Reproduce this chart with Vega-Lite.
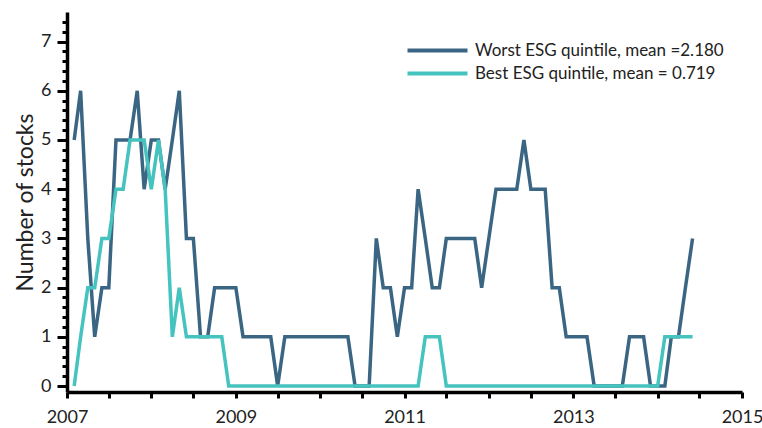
{
  "$schema": "https://vega.github.io/schema/vega-lite/v6.json",
  "width": 675,
  "height": 380,
  "autosize": "none",
  "padding": {"left": 67, "top": 12, "right": 20, "bottom": 36},
  "background": "white",
  "config": {"font": "Lato", "view": {"stroke": null}},
  "data": {"values": [
    {"date":"2007-02-01","series":"Worst","n":5},{"date":"2007-03-01","series":"Worst","n":6},{"date":"2007-04-01","series":"Worst","n":3},{"date":"2007-05-01","series":"Worst","n":1},{"date":"2007-06-01","series":"Worst","n":2},{"date":"2007-07-01","series":"Worst","n":2},{"date":"2007-08-01","series":"Worst","n":5},{"date":"2007-09-01","series":"Worst","n":5},{"date":"2007-10-01","series":"Worst","n":5},{"date":"2007-11-01","series":"Worst","n":6},{"date":"2007-12-01","series":"Worst","n":4},
    {"date":"2008-01-01","series":"Worst","n":5},{"date":"2008-02-01","series":"Worst","n":5},{"date":"2008-03-01","series":"Worst","n":4},{"date":"2008-04-01","series":"Worst","n":5},{"date":"2008-05-01","series":"Worst","n":6},{"date":"2008-06-01","series":"Worst","n":3},{"date":"2008-07-01","series":"Worst","n":3},{"date":"2008-08-01","series":"Worst","n":1},{"date":"2008-09-01","series":"Worst","n":1},{"date":"2008-10-01","series":"Worst","n":2},{"date":"2008-11-01","series":"Worst","n":2},{"date":"2008-12-01","series":"Worst","n":2},
    {"date":"2009-01-01","series":"Worst","n":2},{"date":"2009-02-01","series":"Worst","n":1},{"date":"2009-03-01","series":"Worst","n":1},{"date":"2009-04-01","series":"Worst","n":1},{"date":"2009-05-01","series":"Worst","n":1},{"date":"2009-06-01","series":"Worst","n":1},{"date":"2009-07-01","series":"Worst","n":0},{"date":"2009-08-01","series":"Worst","n":1},{"date":"2009-09-01","series":"Worst","n":1},{"date":"2009-10-01","series":"Worst","n":1},{"date":"2009-11-01","series":"Worst","n":1},{"date":"2009-12-01","series":"Worst","n":1},
    {"date":"2010-01-01","series":"Worst","n":1},{"date":"2010-02-01","series":"Worst","n":1},{"date":"2010-03-01","series":"Worst","n":1},{"date":"2010-04-01","series":"Worst","n":1},{"date":"2010-05-01","series":"Worst","n":1},{"date":"2010-06-01","series":"Worst","n":0},{"date":"2010-07-01","series":"Worst","n":0},{"date":"2010-08-01","series":"Worst","n":0},{"date":"2010-09-01","series":"Worst","n":3},{"date":"2010-10-01","series":"Worst","n":2},{"date":"2010-11-01","series":"Worst","n":2},{"date":"2010-12-01","series":"Worst","n":1},
    {"date":"2011-01-01","series":"Worst","n":2},{"date":"2011-02-01","series":"Worst","n":2},{"date":"2011-03-01","series":"Worst","n":4},{"date":"2011-04-01","series":"Worst","n":3},{"date":"2011-05-01","series":"Worst","n":2},{"date":"2011-06-01","series":"Worst","n":2},{"date":"2011-07-01","series":"Worst","n":3},{"date":"2011-08-01","series":"Worst","n":3},{"date":"2011-09-01","series":"Worst","n":3},{"date":"2011-10-01","series":"Worst","n":3},{"date":"2011-11-01","series":"Worst","n":3},{"date":"2011-12-01","series":"Worst","n":2},
    {"date":"2012-01-01","series":"Worst","n":3},{"date":"2012-02-01","series":"Worst","n":4},{"date":"2012-03-01","series":"Worst","n":4},{"date":"2012-04-01","series":"Worst","n":4},{"date":"2012-05-01","series":"Worst","n":4},{"date":"2012-06-01","series":"Worst","n":5},{"date":"2012-07-01","series":"Worst","n":4},{"date":"2012-08-01","series":"Worst","n":4},{"date":"2012-09-01","series":"Worst","n":4},{"date":"2012-10-01","series":"Worst","n":2},{"date":"2012-11-01","series":"Worst","n":2},{"date":"2012-12-01","series":"Worst","n":1},
    {"date":"2013-01-01","series":"Worst","n":1},{"date":"2013-02-01","series":"Worst","n":1},{"date":"2013-03-01","series":"Worst","n":1},{"date":"2013-04-01","series":"Worst","n":0},{"date":"2013-05-01","series":"Worst","n":0},{"date":"2013-06-01","series":"Worst","n":0},{"date":"2013-07-01","series":"Worst","n":0},{"date":"2013-08-01","series":"Worst","n":0},{"date":"2013-09-01","series":"Worst","n":1},{"date":"2013-10-01","series":"Worst","n":1},{"date":"2013-11-01","series":"Worst","n":1},{"date":"2013-12-01","series":"Worst","n":0},
    {"date":"2014-01-01","series":"Worst","n":0},{"date":"2014-02-01","series":"Worst","n":0},{"date":"2014-03-01","series":"Worst","n":1},{"date":"2014-04-01","series":"Worst","n":1},{"date":"2014-05-01","series":"Worst","n":2},{"date":"2014-06-01","series":"Worst","n":3},
    {"date":"2007-02-01","series":"Best","n":0},{"date":"2007-03-01","series":"Best","n":1},{"date":"2007-04-01","series":"Best","n":2},{"date":"2007-05-01","series":"Best","n":2},{"date":"2007-06-01","series":"Best","n":3},{"date":"2007-07-01","series":"Best","n":3},{"date":"2007-08-01","series":"Best","n":4},{"date":"2007-09-01","series":"Best","n":4},{"date":"2007-10-01","series":"Best","n":5},{"date":"2007-11-01","series":"Best","n":5},{"date":"2007-12-01","series":"Best","n":5},
    {"date":"2008-01-01","series":"Best","n":4},{"date":"2008-02-01","series":"Best","n":5},{"date":"2008-03-01","series":"Best","n":4},{"date":"2008-04-01","series":"Best","n":1},{"date":"2008-05-01","series":"Best","n":2},{"date":"2008-06-01","series":"Best","n":1},{"date":"2008-07-01","series":"Best","n":1},{"date":"2008-08-01","series":"Best","n":1},{"date":"2008-09-01","series":"Best","n":1},{"date":"2008-10-01","series":"Best","n":1},{"date":"2008-11-01","series":"Best","n":1},{"date":"2008-12-01","series":"Best","n":0},
    {"date":"2009-01-01","series":"Best","n":0},{"date":"2009-02-01","series":"Best","n":0},{"date":"2009-03-01","series":"Best","n":0},{"date":"2009-04-01","series":"Best","n":0},{"date":"2009-05-01","series":"Best","n":0},{"date":"2009-06-01","series":"Best","n":0},{"date":"2009-07-01","series":"Best","n":0},{"date":"2009-08-01","series":"Best","n":0},{"date":"2009-09-01","series":"Best","n":0},{"date":"2009-10-01","series":"Best","n":0},{"date":"2009-11-01","series":"Best","n":0},{"date":"2009-12-01","series":"Best","n":0},
    {"date":"2010-01-01","series":"Best","n":0},{"date":"2010-02-01","series":"Best","n":0},{"date":"2010-03-01","series":"Best","n":0},{"date":"2010-04-01","series":"Best","n":0},{"date":"2010-05-01","series":"Best","n":0},{"date":"2010-06-01","series":"Best","n":0},{"date":"2010-07-01","series":"Best","n":0},{"date":"2010-08-01","series":"Best","n":0},{"date":"2010-09-01","series":"Best","n":0},{"date":"2010-10-01","series":"Best","n":0},{"date":"2010-11-01","series":"Best","n":0},{"date":"2010-12-01","series":"Best","n":0},
    {"date":"2011-01-01","series":"Best","n":0},{"date":"2011-02-01","series":"Best","n":0},{"date":"2011-03-01","series":"Best","n":0},{"date":"2011-04-01","series":"Best","n":1},{"date":"2011-05-01","series":"Best","n":1},{"date":"2011-06-01","series":"Best","n":1},{"date":"2011-07-01","series":"Best","n":0},{"date":"2011-08-01","series":"Best","n":0},{"date":"2011-09-01","series":"Best","n":0},{"date":"2011-10-01","series":"Best","n":0},{"date":"2011-11-01","series":"Best","n":0},{"date":"2011-12-01","series":"Best","n":0},
    {"date":"2012-01-01","series":"Best","n":0},{"date":"2012-02-01","series":"Best","n":0},{"date":"2012-03-01","series":"Best","n":0},{"date":"2012-04-01","series":"Best","n":0},{"date":"2012-05-01","series":"Best","n":0},{"date":"2012-06-01","series":"Best","n":0},{"date":"2012-07-01","series":"Best","n":0},{"date":"2012-08-01","series":"Best","n":0},{"date":"2012-09-01","series":"Best","n":0},{"date":"2012-10-01","series":"Best","n":0},{"date":"2012-11-01","series":"Best","n":0},{"date":"2012-12-01","series":"Best","n":0},
    {"date":"2013-01-01","series":"Best","n":0},{"date":"2013-02-01","series":"Best","n":0},{"date":"2013-03-01","series":"Best","n":0},{"date":"2013-04-01","series":"Best","n":0},{"date":"2013-05-01","series":"Best","n":0},{"date":"2013-06-01","series":"Best","n":0},{"date":"2013-07-01","series":"Best","n":0},{"date":"2013-08-01","series":"Best","n":0},{"date":"2013-09-01","series":"Best","n":0},{"date":"2013-10-01","series":"Best","n":0},{"date":"2013-11-01","series":"Best","n":0},{"date":"2013-12-01","series":"Best","n":0},
    {"date":"2014-01-01","series":"Best","n":0},{"date":"2014-02-01","series":"Best","n":1},{"date":"2014-03-01","series":"Best","n":1},{"date":"2014-04-01","series":"Best","n":1},{"date":"2014-05-01","series":"Best","n":1},{"date":"2014-06-01","series":"Best","n":1}
  ]},
  "encoding": {
    "x": {
      "field": "date", "type": "temporal",
      "scale": {"type": "utc", "domain": [{"year": 2007, "month": 1, "date": 1, "utc": true}, {"year": 2015, "month": 1, "date": 1, "utc": true}]},
      "axis": {
        "title": null, "grid": false,
        "values": [
          {"year":2007,"month":1,"date":1,"utc":true},{"year":2007,"month":7,"date":1,"utc":true},
          {"year":2008,"month":1,"date":1,"utc":true},{"year":2008,"month":7,"date":1,"utc":true},
          {"year":2009,"month":1,"date":1,"utc":true},{"year":2009,"month":7,"date":1,"utc":true},
          {"year":2010,"month":1,"date":1,"utc":true},{"year":2010,"month":7,"date":1,"utc":true},
          {"year":2011,"month":1,"date":1,"utc":true},{"year":2011,"month":7,"date":1,"utc":true},
          {"year":2012,"month":1,"date":1,"utc":true},{"year":2012,"month":7,"date":1,"utc":true},
          {"year":2013,"month":1,"date":1,"utc":true},{"year":2013,"month":7,"date":1,"utc":true},
          {"year":2014,"month":1,"date":1,"utc":true},{"year":2014,"month":7,"date":1,"utc":true},
          {"year":2015,"month":1,"date":1,"utc":true}
        ],
        "labelExpr": "(utcmonth(datum.value) == 0 && utcyear(datum.value) % 2 == 1) ? utcFormat(datum.value, '%Y') : ''",
        "labelOverlap": false, "labelFlush": false,
        "labelFontSize": 18, "labelColor": "#222222", "labelPadding": 10,
        "domainColor": "black", "domainWidth": 3.5,
        "tickColor": "black", "tickWidth": 3, "tickSize": 6
      }
    },
    "y": {
      "field": "n", "type": "quantitative",
      "scale": {"domain": [-0.12, 7.6], "nice": false, "zero": false},
      "axis": {
        "title": "Number of stocks", "titleFontSize": 23, "titleFontWeight": "normal", "titleColor": "#222222", "titlePadding": 3,
        "grid": false,
        "values": [0,0.2,0.4,0.6,0.8,1,1.2,1.4,1.6,1.8,2,2.2,2.4,2.6,2.8,3,3.2,3.4,3.6,3.8,4,4.2,4.4,4.6,4.8,5,5.2,5.4,5.6,5.8,6,6.2,6.4,6.6,6.8,7,7.2,7.4],
        "labelExpr": "abs(datum.value - round(datum.value)) < 0.01 ? format(round(datum.value), 'd') : ''",
        "labelOverlap": false, "labelFlush": false,
        "labelFontSize": 18, "labelColor": "#222222", "labelPadding": 6,
        "domainColor": "black", "domainWidth": 3.5,
        "tickColor": "black", "tickWidth": 3,
        "tickSize": {"condition": {"test": "abs(datum.value - round(datum.value)) < 0.01", "value": 10}, "value": 5}
      }
    },
    "color": {
      "field": "series", "type": "nominal",
      "scale": {"domain": ["Worst", "Best"], "range": ["#3a6683", "#45c3bf"]},
      "legend": {
        "orient": "none", "legendX": 362, "legendY": 30, "title": null, "padding": 0,
        "symbolType": "M-6,0H6", "symbolSize": 100, "symbolStrokeWidth": 4,
        "labelFontSize": 17, "labelColor": "#222222", "labelOffset": 29, "labelLimit": 400, "rowPadding": 5,
        "labelExpr": "datum.label == 'Worst' ? 'Worst ESG quintile, mean =2.180' : 'Best ESG quintile, mean = 0.719'"
      }
    }
  },
  "layer": [
    {"transform": [{"filter": "datum.series == 'Worst'"}], "mark": {"type": "line", "strokeWidth": 3.5}},
    {"transform": [{"filter": "datum.series == 'Best'"}], "mark": {"type": "line", "strokeWidth": 3.5}}
  ]
}
